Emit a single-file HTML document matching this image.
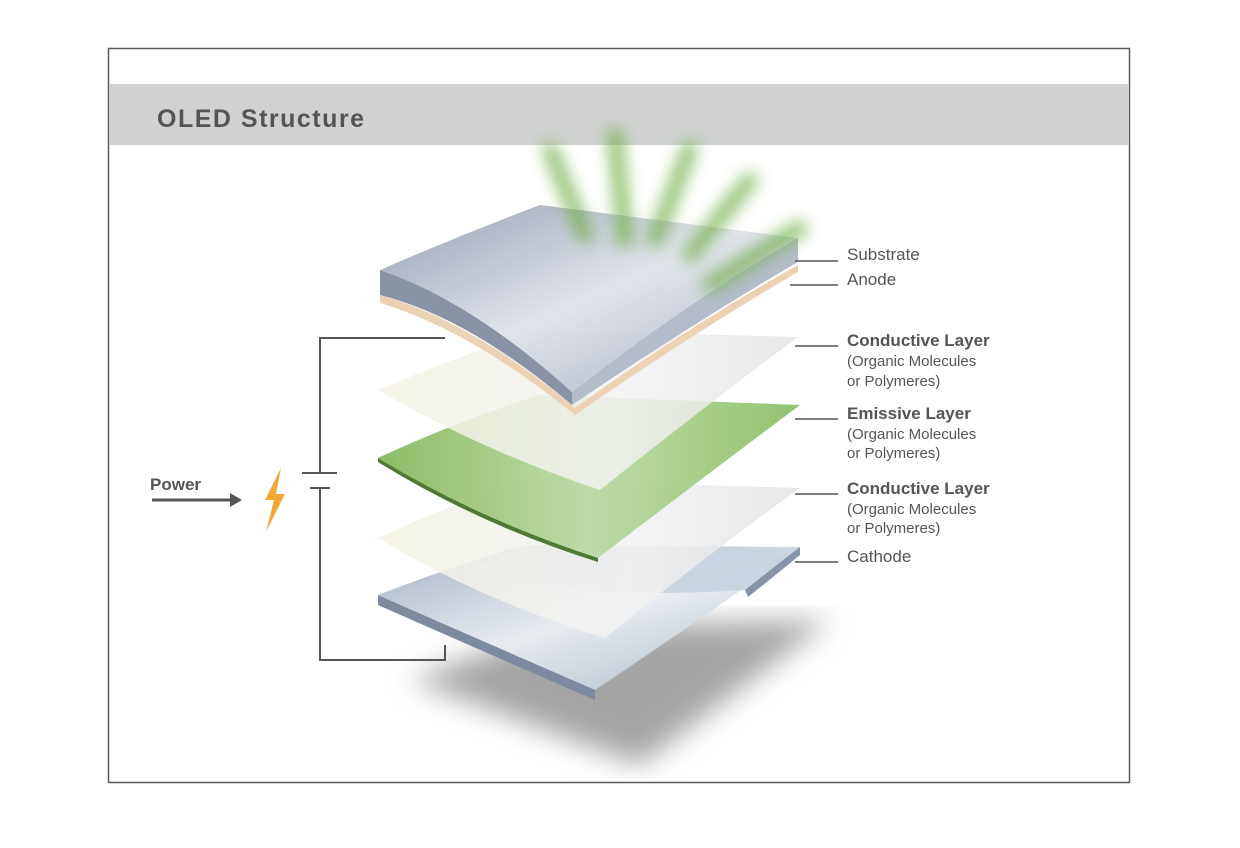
<!DOCTYPE html>
<html><head><meta charset="utf-8"><style>
body{margin:0;background:#fff;width:1240px;height:843px;overflow:hidden;font-family:"Liberation Sans",sans-serif}
</style></head><body>
<svg width="1240" height="843" viewBox="0 0 1240 843" xmlns="http://www.w3.org/2000/svg">
<defs>
<filter id="blur8"><feGaussianBlur stdDeviation="8"/></filter>
<filter id="blur14"><feGaussianBlur stdDeviation="14"/></filter>
<linearGradient id="sub" x1="0" y1="0" x2="1" y2="1"><stop offset="0" stop-color="#8f99ad"/><stop offset="0.5" stop-color="#dfe3ea"/><stop offset="1" stop-color="#9ea7b8"/></linearGradient>
<linearGradient id="cond" x1="0" y1="0" x2="1" y2="0"><stop offset="0" stop-color="#f4f3e4"/><stop offset="0.6" stop-color="#f2f2f2"/><stop offset="1" stop-color="#e4e4e4"/></linearGradient>
<linearGradient id="emis" x1="0" y1="0" x2="1" y2="0"><stop offset="0" stop-color="#7fb556"/><stop offset="0.5" stop-color="#b8d8a0"/><stop offset="1" stop-color="#86bb5e"/></linearGradient>
<linearGradient id="cath" x1="0" y1="0" x2="1" y2="1"><stop offset="0" stop-color="#9eaabd"/><stop offset="0.5" stop-color="#e8edf2"/><stop offset="1" stop-color="#a9b7c6"/></linearGradient>
</defs>
<rect x="108.5" y="48.5" width="1021" height="734" fill="#fff" stroke="#5a5a5a" stroke-width="1.5"/>
<rect x="109" y="84" width="1020" height="61" fill="#d0d2d1"/>
<text x="157" y="127" font-size="25" font-weight="bold" letter-spacing="1.5" fill="#555">OLED Structure</text>

<g filter="url(#blur14)"><path d="M410,680 L560,625 L830,620 L640,765 Z" fill="#a5a5a5"/></g>

<g>
<path d="M378,595 Q470,560 525,545 L800,548 Q700,620 595,690 Q480,640 378,595 Z" fill="url(#cath)" opacity="0.95"/>
<path d="M378,595 Q480,640 595,690 L595,700 Q480,650 378,605 Z" fill="#7d8aa0"/>
<path d="M465,575 Q500,555 525,545 L800,547 Q770,570 745,590 Q600,600 465,575 Z" fill="#c7d2de" opacity="0.9"/>
<path d="M745,590 Q770,570 800,547 L800,555 Q772,578 748,597 Z" fill="#8794a8"/>
</g>
<g>
<path d="M378,538 Q460,500 530,480 L800,488 Q700,560 605,638 Q480,600 378,538 Z" fill="url(#cond)" opacity="0.85"/>
</g>
<g>
<path d="M378,458 Q460,420 540,395 L800,405 Q700,480 598,558 Q480,520 378,458 Z" fill="url(#emis)" opacity="0.9"/>
<path d="M378,458 Q480,520 598,558 L598,562 Q480,525 378,462 Z" fill="#4d7a35"/>
</g>
<g>
<path d="M378,390 Q460,355 540,330 L798,337 Q700,410 600,490 Q480,450 378,390 Z" fill="url(#cond)" opacity="0.85"/>
</g>
<g>
<path d="M380,295 Q470,320 575,408 Q690,325 798,265 L798,272 Q690,335 575,415 Q470,330 380,303 Z" fill="#ecd2b4"/>
<path d="M380,270 Q470,300 572,392 L572,405 Q470,318 380,295 Z" fill="#8a93a6"/>
<path d="M572,392 Q690,300 798,238 L798,262 Q690,325 572,405 Z" fill="#b5bcc9"/>
<path d="M380,270 Q460,235 540,205 L798,238 Q690,300 572,392 Q470,300 380,270 Z" fill="url(#sub)" opacity="0.95"/>
</g>
<g filter="url(#blur8)" stroke="#6fae45" stroke-linecap="round" opacity="0.85">
<line x1="550" y1="150" x2="585" y2="235" stroke-width="14"/>
<line x1="615" y1="135" x2="625" y2="240" stroke-width="14"/>
<line x1="690" y1="148" x2="655" y2="240" stroke-width="14"/>
<line x1="750" y1="180" x2="690" y2="255" stroke-width="14"/>
<line x1="800" y1="228" x2="710" y2="285" stroke-width="14"/>
</g>

<g stroke="#555" stroke-width="2" fill="none">
<path d="M445,338 L320,338 L320,473"/>
<path d="M320,488 L320,660 L445,660 L445,645"/>
<line x1="302" y1="473" x2="337" y2="473"/>
<line x1="310" y1="488" x2="330" y2="488"/>
</g>
<text x="150" y="490" font-size="17" font-weight="bold" fill="#555">Power</text>
<g><line x1="152" y1="500" x2="232" y2="500" stroke="#555" stroke-width="3"/><path d="M230,493 L242,500 L230,507 Z" fill="#555"/></g>
<path d="M281,468 L265,500 L274,500 L266,532 L285,494 L276,494 Z" fill="#f0a020" opacity="0.9"/>

<g stroke="#555" stroke-width="1.5">
<line x1="795" y1="261" x2="838" y2="261"/><line x1="790" y1="285" x2="838" y2="285"/>
<line x1="795" y1="346" x2="838" y2="346"/><line x1="795" y1="419" x2="838" y2="419"/>
<line x1="795" y1="494" x2="838" y2="494"/><line x1="795" y1="562" x2="838" y2="562"/>
</g>
<g fill="#555" font-size="17">
<text x="847" y="260">Substrate</text>
<text x="847" y="285">Anode</text>
<text x="847" y="346" font-weight="bold">Conductive Layer</text>
<text x="847" y="366" font-size="15">(Organic Molecules</text>
<text x="847" y="386" font-size="15">or Polymeres)</text>
<text x="847" y="419" font-weight="bold">Emissive Layer</text>
<text x="847" y="439" font-size="15">(Organic Molecules</text>
<text x="847" y="458" font-size="15">or Polymeres)</text>
<text x="847" y="494" font-weight="bold">Conductive Layer</text>
<text x="847" y="514" font-size="15">(Organic Molecules</text>
<text x="847" y="533" font-size="15">or Polymeres)</text>
<text x="847" y="562">Cathode</text>
</g>
</svg>
</body></html>
